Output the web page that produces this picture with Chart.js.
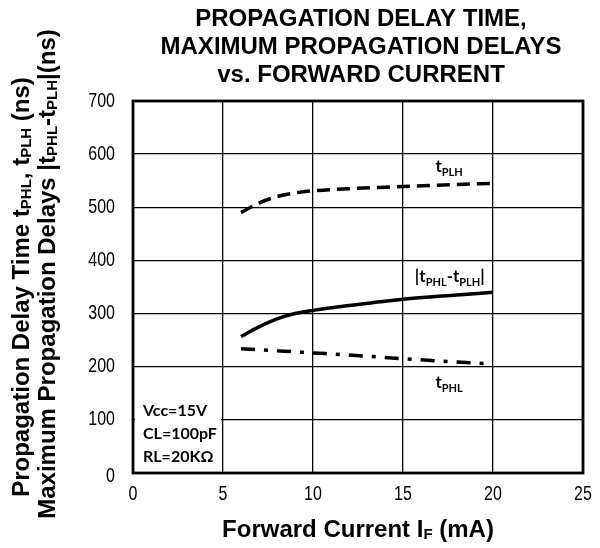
<!DOCTYPE html>
<html>
<head>
<meta charset="utf-8">
<script src="https://cdn.jsdelivr.net/npm/chart.js@4"></script>
<style>
  body { margin: 0; background: #fff; }
  canvas { display: block; }
</style>
</head>
<body>
<canvas id="chart" width="600" height="548"></canvas>
<script>
'use strict';
// データ
const currentMA = [6, 7, 8, 9, 10, 12, 15, 18, 20];
const tPLH = [490, 508, 520, 527, 531, 535, 539, 543, 545];
const tDiff = [257, 275, 290, 300, 306, 315, 327, 335, 340];
const tPHL = [234, 232, 230, 228, 226, 222, 215, 209, 205];
const xTicks = [0, 5, 10, 15, 20, 25];
const yTicks = [0, 100, 200, 300, 400, 500, 600, 700];
const conditions = ['Vcc=15V', 'CL=100pF', 'RL=20KΩ'];

const TITLE_FONT = '"Liberation Sans", Arial, sans-serif';
const NOTE_FONT = 'Lato, "Open Sans", sans-serif';

function toPoints(xs, ys) {
  return xs.map((x, i) => ({ x: x, y: ys[i] }));
}

// 下付き文字を含むテキストを描く
function drawRich(ctx, parts, x, y, size, family, align) {
  const subSize = Math.round(size * 0.62);
  let total = 0;
  parts.forEach((p) => {
    ctx.font = `bold ${p.sub ? subSize : size}px ${family}`;
    p.w = ctx.measureText(p.t).width;
    total += p.w;
  });
  let cx = align === 'center' ? x - total / 2 : x;
  parts.forEach((p) => {
    ctx.font = `bold ${p.sub ? subSize : size}px ${family}`;
    ctx.fillText(p.t, cx, p.sub ? y + size * 0.22 : y);
    cx += p.w;
  });
}

// 細い数字（Arial Narrow 風）で目盛りラベルを描く
function drawNarrow(ctx, text, x, y, align) {
  const sx = 0.8;
  ctx.save();
  ctx.translate(x, y);
  ctx.scale(sx, 1);
  ctx.font = `20px ${TITLE_FONT}`;
  ctx.textAlign = align;
  ctx.textBaseline = 'middle';
  ctx.fillText(text, 0, 0);
  ctx.restore();
}

const decorations = {
  id: 'decorations',
  beforeDatasetsDraw(chart) {
    const { ctx, chartArea } = chart;
    // 条件ボックス
    ctx.save();
    ctx.fillStyle = '#fff';
    ctx.fillRect(chartArea.left + 2, chartArea.bottom - 78, 86, 76);
    ctx.fillStyle = '#000';
    ctx.textBaseline = 'middle';
    ctx.font = `bold 16px ${NOTE_FONT}`;
    conditions.forEach((c, i) => {
      ctx.fillText(c, chartArea.left + 10, chartArea.bottom - 62 + i * 23);
    });
    ctx.restore();
  },
  afterDraw(chart) {
    const { ctx, chartArea, scales } = chart;
    const xs = scales.x;
    const ys = scales.y;
    ctx.save();
    // 枠
    ctx.strokeStyle = '#000';
    ctx.lineWidth = 2.8;
    ctx.strokeRect(chartArea.left, chartArea.top, chartArea.right - chartArea.left, chartArea.bottom - chartArea.top);

    ctx.fillStyle = '#000';
    // 目盛りラベル
    xs.ticks.forEach((t) => {
      drawNarrow(ctx, String(t.value), xs.getPixelForValue(t.value), chartArea.bottom + 21, 'center');
    });
    ys.ticks.forEach((t) => {
      drawNarrow(ctx, String(t.value), chartArea.left - 18, ys.getPixelForValue(t.value) + (t.value === 0 ? 3 : 0), 'right');
    });

    ctx.textAlign = 'left';
    ctx.textBaseline = 'alphabetic';
    // 曲線ラベル
    drawRich(ctx, [{ t: 't' }, { t: 'PLH', sub: true }], xs.getPixelForValue(16.8), ys.getPixelForValue(566), 17, NOTE_FONT, 'left');
    drawRich(ctx, [{ t: '|t' }, { t: 'PHL', sub: true }, { t: '-t' }, { t: 'PLH', sub: true }, { t: '|' }],
      xs.getPixelForValue(17.6), ys.getPixelForValue(359), 17, NOTE_FONT, 'center');
    drawRich(ctx, [{ t: 't' }, { t: 'PHL', sub: true }], xs.getPixelForValue(16.8), ys.getPixelForValue(160), 17, NOTE_FONT, 'left');

    // タイトル
    ctx.textBaseline = 'middle';
    ['PROPAGATION DELAY TIME,', 'MAXIMUM PROPAGATION DELAYS', 'vs. FORWARD CURRENT'].forEach((line, i) => {
      drawRich(ctx, [{ t: line }], 361, 19 + i * 28, 24, TITLE_FONT, 'center');
    });

    // X軸タイトル
    drawRich(ctx, [{ t: 'Forward Current I' }, { t: 'F', sub: true }, { t: ' (mA)' }], 358, 530, 24, TITLE_FONT, 'center');

    // Y軸タイトル（2行）
    ctx.rotate(-Math.PI / 2);
    drawRich(ctx, [{ t: 'Propagation Delay Time t' }, { t: 'PHL', sub: true }, { t: ', t' }, { t: 'PLH', sub: true }, { t: ' (ns)' }],
      -287, 22, 24, TITLE_FONT, 'center');
    drawRich(ctx, [{ t: 'Maximum Propagation Delays |t' }, { t: 'PHL', sub: true }, { t: '-t' }, { t: 'PLH', sub: true }, { t: '|(ns)' }],
      -274, 48, 24, TITLE_FONT, 'center');
    ctx.restore();
  },
};

const lineStyle = {
  showLine: true,
  pointRadius: 0,
  borderColor: '#000',
  borderWidth: 3.5,
  tension: 0.4,
  cubicInterpolationMode: 'monotone',
  fill: false,
};

new Chart(document.getElementById('chart'), {
  type: 'scatter',
  data: {
    datasets: [
      Object.assign({ label: 'tPLH', data: toPoints(currentMA, tPLH), borderDash: [13, 7] }, lineStyle),
      Object.assign({ label: '|tPHL-tPLH|', data: toPoints(currentMA, tDiff) }, lineStyle),
      Object.assign({ label: 'tPHL', data: toPoints(currentMA, tPHL), borderDash: [14, 9, 4, 9] }, lineStyle),
    ],
  },
  options: {
    responsive: false,
    animation: false,
    layout: { padding: { top: 101, right: 17, left: 0, bottom: 0 } },
    plugins: {
      legend: { display: false },
      tooltip: { enabled: false },
    },
    scales: {
      x: {
        type: 'linear',
        min: xTicks[0],
        max: xTicks[xTicks.length - 1],
        afterBuildTicks: (scale) => { scale.ticks = xTicks.map((v) => ({ value: v })); },
        afterFit: (scale) => { scale.height = 75; },
        ticks: { display: false },
        grid: { color: '#000', lineWidth: 1.3, drawTicks: false },
        border: { display: false },
      },
      y: {
        min: yTicks[0],
        max: yTicks[yTicks.length - 1],
        afterBuildTicks: (scale) => { scale.ticks = yTicks.map((v) => ({ value: v })); },
        afterFit: (scale) => { scale.width = 133; },
        ticks: { display: false },
        grid: { color: '#000', lineWidth: 1.3, drawTicks: false },
        border: { display: false },
      },
    },
  },
  plugins: [decorations],
});
</script>
</body>
</html>
